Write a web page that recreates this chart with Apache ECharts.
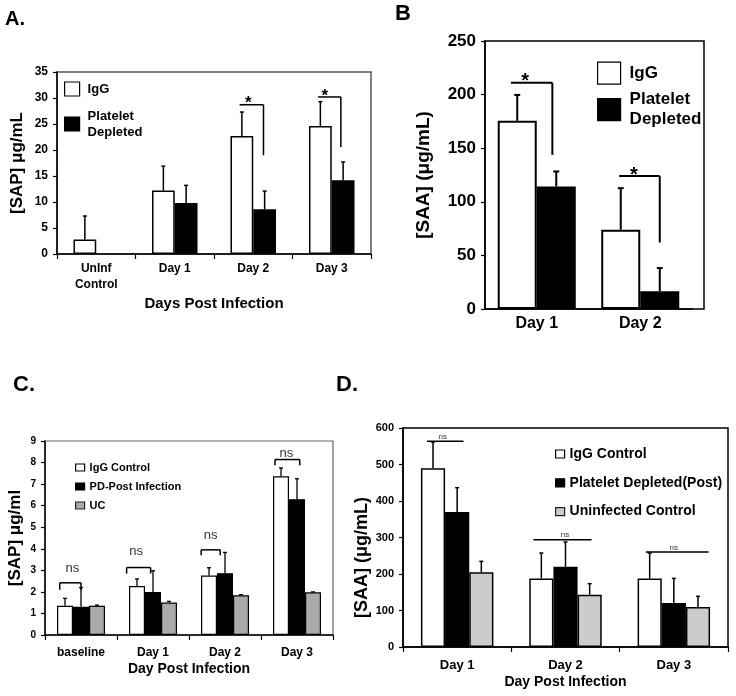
<!DOCTYPE html>
<html><head><meta charset="utf-8">
<script src="https://cdn.jsdelivr.net/npm/echarts@6/dist/echarts.min.js"></script>
<style>html,body{margin:0;padding:0;background:#fff}#c{width:736px;height:696px}</style>
</head><body><div id="c"></div>
<script>
const FONT = '"Liberation Sans", Arial, sans-serif';

// ---------- Panel A ----------
const catsA = ['UnInf\nControl', 'Day 1', 'Day 2', 'Day 3'];
const igA = [2.8, 12.2, 22.7, 24.6];
const pdA = [null, 9.8, 8.6, 14.2];
const igErrA = [7.3, 16.9, 27.3, 29.3];
const pdErrA = [null, 13.2, 12.1, 17.7];
// [category, fromBar, toBar, lineY, leftDropY, rightDropY]
const sigA = [[2, -0.1, 0.95, 28.7, -1, 19.0], [3, -0.1, 0.9, 30.2, -1, 20.6]];
// [category, bar position, y]
const sigTextA = [[2, 0.28, 28.9], [3, 0.2, 30.4]];
const sigLabelA = ['*', '*'];

// ---------- Panel B ----------
const catsB = ['Day 1', 'Day 2'];
const igB = [175.5, 73.9];
const pdB = [114.3, 16.5];
const igErrB = [199.7, 112.7];
const pdErrB = [128.3, 38.2];
const sigB = [[0, -0.16, 0.9, 211, -1, 143.8], [1, -0.04, 1.0, 124, -1, 62]];
const sigTextB = [[0, 0.2, 212], [1, 0.34, 125]];
const sigLabelB = ['*', '*'];

// ---------- Panel C ----------
const catsC = ['baseline', 'Day 1', 'Day 2', 'Day 3'];
const igC = [1.36, 2.27, 2.76, 7.36];
const pdC = [1.31, 2.0, 2.87, 6.3];
const ucC = [1.36, 1.51, 1.84, 1.98];
const igErrC = [1.7, 2.6, 3.12, 7.75];
const pdErrC = [2.2, 2.98, 3.83, 7.25];
const ucErrC = [1.39, 1.56, 1.87, 2.0];
const sigC = [[0, -0.33, 1.0, 2.42, 2.1, 2.1], [1, -0.65, 0.85, 3.13, 2.85, 2.85],
              [2, -0.49, 0.7, 3.95, 3.7, 3.7], [3, -0.375, 1.17, 8.14, 7.87, 7.87]];
const sigTextC = [[0, 0.46, 3.09], [1, -0.06, 3.86], [2, 0.1, 4.63], [3, 0.33, 8.44]];
const sigLabelC = ['ns', 'ns', 'ns', 'ns'];

// ---------- Panel D ----------
const catsD = ['Day 1', 'Day 2', 'Day 3'];
const igD = [490, 188, 188];
const pdD = [370, 220, 120.5];
const ucD = [204.6, 143.4, 109.6];
const igErrD = [561.6, 257.5, 257.5];
const pdErrD = [436.5, 287.7, 188];
const ucErrD = [234.7, 173.5, 138.8];
const sigD = [[0, -0.25, 1.26, 564, -1, -1], [1, -0.33, 2.08, 294, -1, -1], [2, -0.16, 2.44, 260, -1, -1]];
const sigTextD = [[0, 0.4, 577], [1, 0.98, 307], [2, 1.0, 273]];
const sigLabelD = ['ns', 'ns', 'ns'];

function bar(name, data, gi, color, width, bw) {
  return { type: 'bar', name, data, xAxisIndex: gi, yAxisIndex: gi, barWidth: width, barGap: '0%',
    itemStyle: { color, borderColor: '#000', borderWidth: bw }, silent: true, animation: false };
}
function errData(valsList, errsList) {
  const out = [];
  valsList.forEach((vals, i) => vals.forEach((v, c) => {
    if (v !== null && errsList[i][c] !== null) out.push([c, i, v, errsList[i][c]]);
  }));
  return out;
}
function errSeries(gi, n, frac, cap, lw, valsList, errsList) {
  return { type: 'custom', xAxisIndex: gi, yAxisIndex: gi, silent: true, animation: false, z: 5,
    data: errData(valsList, errsList), encode: { x: 0, y: 3 },
    renderItem: function (params, api) {
      const c = api.value(0), i = api.value(1), v = api.value(2), e = api.value(3);
      const bw = api.size([1, 0])[0] * frac;
      const cx = api.coord([c, 0])[0] + (i - (n - 1) / 2) * bw;
      const y1 = api.coord([c, v])[1], y2 = api.coord([c, e])[1];
      return { type: 'group', children: [
        { type: 'line', shape: { x1: cx, y1: y1, x2: cx, y2: y2 }, style: { stroke: '#000', lineWidth: lw } },
        { type: 'line', shape: { x1: cx - cap, y1: y2, x2: cx + cap, y2: y2 }, style: { stroke: '#000', lineWidth: lw } }
      ] };
    } };
}
function sigSeries(gi, n, frac, lw, lines, color) {
  return { type: 'custom', xAxisIndex: gi, yAxisIndex: gi, silent: true, animation: false, z: 6,
    data: lines, encode: { x: 0, y: 3 },
    renderItem: function (params, api) {
      const c = api.value(0), f = api.value(1), t = api.value(2), y = api.value(3), ld = api.value(4), rd = api.value(5);
      const bw = api.size([1, 0])[0] * frac;
      const base = api.coord([c, 0])[0] - (n - 1) / 2 * bw;
      const x1 = base + f * bw, x2 = base + t * bw, py = api.coord([c, y])[1];
      const ch = [{ type: 'line', shape: { x1: x1, y1: py, x2: x2, y2: py }, style: { stroke: color, lineWidth: lw } }];
      if (ld >= 0) ch.push({ type: 'line', shape: { x1: x1, y1: py, x2: x1, y2: api.coord([c, ld])[1] }, style: { stroke: color, lineWidth: lw } });
      if (rd >= 0) ch.push({ type: 'line', shape: { x1: x2, y1: py, x2: x2, y2: api.coord([c, rd])[1] }, style: { stroke: color, lineWidth: lw } });
      return { type: 'group', children: ch };
    } };
}
function textSeries(gi, n, frac, pos, labels, size, weight, color) {
  return { type: 'custom', xAxisIndex: gi, yAxisIndex: gi, silent: true, animation: false, z: 7,
    data: pos, encode: { x: 0, y: 2 },
    renderItem: function (params, api) {
      const c = api.value(0), p = api.value(1), y = api.value(2);
      const bw = api.size([1, 0])[0] * frac;
      const x = api.coord([c, 0])[0] + (p - (n - 1) / 2) * bw;
      return { type: 'text', x: x, y: api.coord([c, y])[1],
        style: { text: labels[params.dataIndex], fontSize: size, fontWeight: weight, fontFamily: FONT,
          fill: color, align: 'center', verticalAlign: 'middle' } };
    } };
}

const WHITE = { color: '#fff', borderColor: '#000', borderWidth: 1.2 };
const BLACK = { color: '#000', borderColor: '#000', borderWidth: 1.2 };
const GRAYC = { color: '#aaaaaa', borderColor: '#222', borderWidth: 1.2 };
const GRAYD = { color: '#cccccc', borderColor: '#222', borderWidth: 1.2 };

function yAx(gi, max, interval, fs, name, nfs, gap, namePad) {
  return { type: 'value', gridIndex: gi, min: 0, max: max, interval: interval,
    name: name, nameLocation: 'middle', nameGap: gap,
    nameTextStyle: { fontFamily: FONT, fontWeight: 'bold', fontSize: nfs, color: '#000', padding: namePad || 0 },
    axisLine: { show: true, lineStyle: { color: '#000', width: 1.5 } },
    axisTick: { show: true, length: 4, lineStyle: { color: '#000', width: 1.2 } },
    axisLabel: { fontFamily: FONT, fontWeight: 'bold', fontSize: fs, color: '#000', margin: 9 },
    splitLine: { show: false } };
}
function xAx(gi, cats, fs, name, nfs, gap, margin, tick) {
  return { type: 'category', gridIndex: gi, data: cats, name: name, nameLocation: 'middle', nameGap: gap,
    nameTextStyle: { fontFamily: FONT, fontWeight: 'bold', fontSize: nfs, color: '#000' },
    axisLine: { show: true, lineStyle: { color: '#000', width: 1.5 } },
    axisTick: { show: tick, length: 5, lineStyle: { color: '#000', width: 1.2 } },
    axisLabel: { fontFamily: FONT, fontWeight: 'bold', fontSize: fs, color: '#000', margin: margin, lineHeight: 16, interval: 0 },
    splitLine: { show: false } };
}
function legend(left, top, iw, ih, gap, fs, lh, padL, items, fmt) {
  return { left: left, top: top, orient: 'vertical', itemWidth: iw, itemHeight: ih, itemGap: gap, padding: 0,
    selectedMode: false, icon: 'rect',
    textStyle: { fontFamily: FONT, fontWeight: 'bold', fontSize: fs, lineHeight: lh, color: '#000', padding: [0, 0, 0, padL] },
    data: items, formatter: fmt };
}
function ttl(text, left, top, fs) {
  return { text: text, left: left, top: top, padding: 0, textStyle: { fontFamily: FONT, fontWeight: 'bold', fontSize: fs, color: '#000' } };
}

const option = {
  backgroundColor: '#fff',
  animation: false,
  title: [ttl('A.', 5, 9, 20), ttl('B', 395, 3, 22), ttl('C.', 13, 374, 22), ttl('D.', 336, 374, 22)],
  grid: [
    { left: 57, top: 72, width: 314, height: 182, show: true, borderColor: '#555', borderWidth: 1.5 },
    { left: 485, top: 41, width: 207, height: 268 },
    { left: 45, top: 441, width: 288, height: 194, show: true, borderColor: '#666', borderWidth: 1.2 },
    { left: 403, top: 428, width: 325, height: 219, show: true, borderColor: '#000', borderWidth: 1.5 },
    { left: 485, top: 41, width: 219, height: 268, show: true, borderColor: '#000', borderWidth: 1.5 }
  ],
  xAxis: [
    xAx(0, catsA, 12, 'Days Post Infection', 15, 42, 7, true),
    xAx(1, catsB, 16, '', 14, 30, 7, false),
    xAx(2, catsC, 12, 'Day Post Infection', 14, 27, 10, true),
    xAx(3, catsD, 13, 'Day Post Infection', 14, 28, 10, true),
    { type: 'value', gridIndex: 4, show: false }
  ],
  yAxis: [
    yAx(0, 35, 5, 12, '[SAP] μg/mL', 17, 31),
    yAx(1, 250, 50, 17, '[SAA] (μg/mL)', 19, 52),
    yAx(2, 9, 1, 10, '[SAP] μg/ml', 17, 21),
    yAx(3, 600, 100, 11, '[SAA] (μg/mL)', 18, 32, [0, 40, 0, 0]),
    { type: 'value', gridIndex: 4, show: false }
  ],
  legend: [
    legend(64, 81, 15, 14, 11, 13, 16, 3,
      [{ name: 'IgG', itemStyle: WHITE }, { name: 'Platelet Depleted', itemStyle: BLACK }], n => n.replace(' ', '\n')),
    legend(597, 61.5, 23, 22, 5, 17, 20, 4,
      [{ name: 'IgG', itemStyle: WHITE }, { name: 'Platelet Depleted', itemStyle: BLACK }], n => n.replace(' ', '\n')),
    legend(75, 461, 9, 7, 6, 11, 13, 0,
      [{ name: 'IgG Control', itemStyle: WHITE }, { name: 'PD-Post Infection', itemStyle: BLACK }, { name: 'UC', itemStyle: GRAYC }], n => n),
    legend(555, 446, 9, 8, 12.8, 14, 16, 0,
      [{ name: 'IgG Control', itemStyle: WHITE }, { name: 'Platelet Depleted(Post)', itemStyle: BLACK }, { name: 'Uninfected Control', itemStyle: GRAYD }], n => n)
  ],
  series: [
    bar('IgG', igA, 0, '#fff', '29%', 1.5),
    bar('Platelet Depleted', pdA, 0, '#000', '29%', 1.5),
    errSeries(0, 2, 0.29, 2, 1.5, [igA, pdA], [igErrA, pdErrA]),
    sigSeries(0, 2, 0.29, 1.5, sigA, '#000'),
    textSeries(0, 2, 0.29, sigTextA, sigLabelA, 17, 'bold', '#000'),

    bar('IgG', igB, 1, '#fff', '37.7%', 2),
    bar('Platelet Depleted', pdB, 1, '#000', '37.7%', 2),
    errSeries(1, 2, 0.377, 3, 2, [igB, pdB], [igErrB, pdErrB]),
    sigSeries(1, 2, 0.377, 2, sigB, '#000'),
    textSeries(1, 2, 0.377, sigTextB, sigLabelB, 20, 'bold', '#000'),

    bar('IgG Control', igC, 2, '#fff', '22.2%', 1.2),
    bar('PD-Post Infection', pdC, 2, '#000', '22.2%', 1.2),
    bar('UC', ucC, 2, '#aaaaaa', '22.2%', 1.2),
    errSeries(2, 3, 0.222, 2, 1.3, [igC, pdC, ucC], [igErrC, pdErrC, ucErrC]),
    sigSeries(2, 3, 0.222, 1.5, sigC, '#000'),
    textSeries(2, 3, 0.222, sigTextC, sigLabelC, 13, 'normal', '#333'),

    bar('IgG Control', igD, 3, '#fff', '22.3%', 1.5),
    bar('Platelet Depleted(Post)', pdD, 3, '#000', '22.3%', 1.5),
    bar('Uninfected Control', ucD, 3, '#cccccc', '22.3%', 1.5),
    errSeries(3, 3, 0.223, 2, 1.5, [igD, pdD, ucD], [igErrD, pdErrD, ucErrD]),
    sigSeries(3, 3, 0.223, 1.5, sigD, '#000'),
    textSeries(3, 3, 0.223, sigTextD, sigLabelD, 8, 'normal', '#333')
  ]
};
const chart = echarts.init(document.getElementById('c'), null, { renderer: 'canvas' });
chart.setOption(option);
</script></body></html>
